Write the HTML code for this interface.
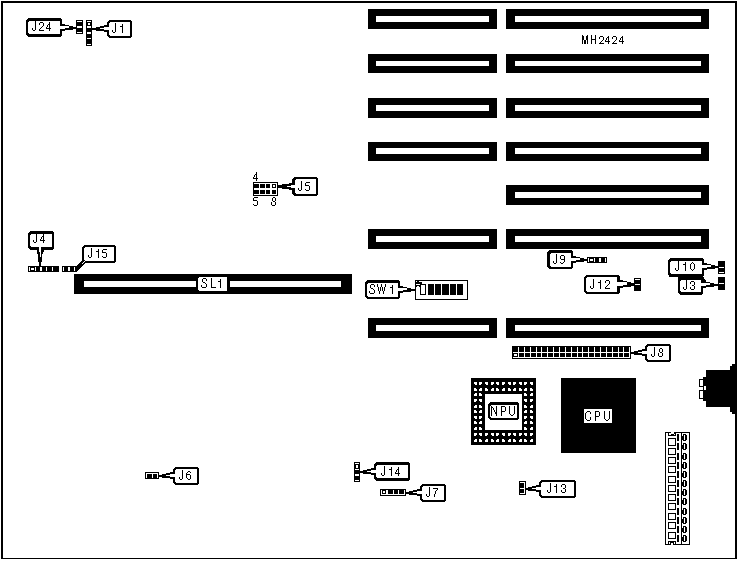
<!DOCTYPE html>
<html><head><meta charset="utf-8"><style>
html,body{margin:0;padding:0;background:#fff;width:738px;height:561px;overflow:hidden}
svg{display:block}
</style></head><body>
<svg width="738" height="561" viewBox="0 0 738 561" shape-rendering="crispEdges">
<rect x="0" y="0" width="738" height="561" fill="#fff"/>
<rect x="1" y="1" width="736" height="2" fill="#000"/>
<rect x="1" y="1" width="2" height="558" fill="#000"/>
<rect x="735" y="1" width="2" height="558" fill="#000"/>
<rect x="1" y="558" width="736" height="1" fill="#000"/>
<rect x="368" y="9" width="129" height="20" fill="#000"/>
<rect x="376" y="16" width="113" height="6" fill="#fff"/>
<rect x="506" y="9" width="203" height="20" fill="#000"/>
<rect x="515" y="16" width="186" height="6" fill="#fff"/>
<rect x="368" y="54" width="129" height="19" fill="#000"/>
<rect x="376" y="61" width="113" height="5" fill="#fff"/>
<rect x="506" y="54" width="203" height="19" fill="#000"/>
<rect x="515" y="61" width="186" height="5" fill="#fff"/>
<rect x="368" y="98" width="129" height="20" fill="#000"/>
<rect x="376" y="105" width="113" height="6" fill="#fff"/>
<rect x="506" y="98" width="203" height="20" fill="#000"/>
<rect x="515" y="105" width="186" height="6" fill="#fff"/>
<rect x="368" y="142" width="129" height="19" fill="#000"/>
<rect x="376" y="148" width="113" height="6" fill="#fff"/>
<rect x="506" y="142" width="203" height="19" fill="#000"/>
<rect x="515" y="148" width="186" height="6" fill="#fff"/>
<rect x="506" y="185" width="203" height="20" fill="#000"/>
<rect x="515" y="192" width="186" height="6" fill="#fff"/>
<rect x="368" y="229" width="129" height="20" fill="#000"/>
<rect x="376" y="236" width="113" height="6" fill="#fff"/>
<rect x="506" y="229" width="203" height="20" fill="#000"/>
<rect x="515" y="236" width="186" height="6" fill="#fff"/>
<rect x="368" y="318" width="129" height="20" fill="#000"/>
<rect x="376" y="325" width="113" height="6" fill="#fff"/>
<rect x="506" y="318" width="203" height="20" fill="#000"/>
<rect x="515" y="325" width="186" height="6" fill="#fff"/>
<rect x="76" y="20" width="7" height="14" fill="#000"/>
<rect x="77" y="21" width="5" height="1" fill="#fff"/>
<rect x="77" y="26" width="5" height="2" fill="#fff"/>
<rect x="77" y="32" width="5" height="1" fill="#fff"/>
<rect x="86" y="20" width="6" height="26" fill="#000"/>
<rect x="87" y="21" width="4" height="1" fill="#fff"/>
<rect x="87" y="26" width="4" height="2" fill="#fff"/>
<rect x="87" y="32" width="4" height="2" fill="#fff"/>
<rect x="87" y="38" width="4" height="1" fill="#fff"/>
<rect x="87" y="44" width="4" height="1" fill="#fff"/>
<rect x="88" y="23" width="2" height="2" fill="#fff"/>
<polygon points="28,18 60,18 62,20 62,35 60,37 28,37 26,35 26,20" fill="#000"/>
<polygon points="29,21 59,21 60,22 60,33 59,34 29,34 28,33 28,22" fill="#fff"/>
<rect x="60" y="24" width="5" height="7" fill="#000"/>
<rect x="65" y="25" width="4" height="5" fill="#000"/>
<rect x="69" y="26" width="4" height="4" fill="#000"/>
<rect x="73" y="27" width="3" height="2" fill="#000"/>
<rect x="60" y="26" width="5" height="3" fill="#fff"/>
<rect x="65" y="26" width="4" height="2" fill="#fff"/>
<polygon points="109,20 130,20 132,22 132,36 130,38 109,38 107,36 107,22" fill="#000"/>
<polygon points="110,22 129,22 130,23 130,35 129,36 110,36 109,35 109,23" fill="#fff"/>
<rect x="104" y="25" width="5" height="7" fill="#000"/>
<rect x="100" y="26" width="4" height="5" fill="#000"/>
<rect x="96" y="27" width="4" height="4" fill="#000"/>
<rect x="92" y="28" width="4" height="2" fill="#000"/>
<rect x="104" y="27" width="5" height="3" fill="#fff"/>
<rect x="100" y="28" width="4" height="1" fill="#fff"/>
<rect x="253" y="182" width="25" height="14" fill="#000"/>
<rect x="254" y="183" width="23" height="12" fill="#fff"/>
<rect x="254" y="184" width="5" height="4" fill="#000"/>
<rect x="254" y="190" width="5" height="4" fill="#000"/>
<rect x="260" y="184" width="5" height="4" fill="#000"/>
<rect x="260" y="190" width="5" height="4" fill="#000"/>
<rect x="266" y="184" width="4" height="4" fill="#000"/>
<rect x="266" y="190" width="4" height="4" fill="#000"/>
<rect x="272" y="184" width="4" height="4" fill="#000"/>
<rect x="272" y="190" width="4" height="4" fill="#000"/>
<rect x="273" y="185" width="2" height="2" fill="#fff"/>
<rect x="253" y="184" width="1" height="10" fill="#000"/>
<polygon points="294,177 316,177 318,179 318,194 316,196 294,196 292,194 292,179" fill="#000"/>
<polygon points="296,179 315,179 316,180 316,193 315,194 296,194 295,193 295,180" fill="#fff"/>
<rect x="278" y="185" width="4" height="3" fill="#000"/>
<rect x="282" y="184" width="7" height="5" fill="#000"/>
<rect x="289" y="183" width="6" height="7" fill="#000"/>
<rect x="287" y="186" width="4" height="1" fill="#fff"/>
<rect x="291" y="185" width="4" height="3" fill="#fff"/>
<rect x="28" y="266" width="31" height="6" fill="#000"/>
<rect x="29" y="267" width="1" height="4" fill="#fff"/>
<rect x="35" y="267" width="1" height="4" fill="#fff"/>
<rect x="40" y="267" width="2" height="4" fill="#fff"/>
<rect x="46" y="267" width="1" height="4" fill="#fff"/>
<rect x="52" y="267" width="1" height="4" fill="#fff"/>
<rect x="31" y="268" width="3" height="2" fill="#fff"/>
<polygon points="30,231 52,231 54,233 54,248 52,250 30,250 28,248 28,233" fill="#000"/>
<polygon points="31,234 51,234 52,235 52,246 51,247 31,247 30,246 30,235" fill="#fff"/>
<rect x="37" y="248" width="7" height="4" fill="#000"/>
<rect x="37" y="252" width="6" height="2" fill="#000"/>
<rect x="38" y="254" width="4" height="8" fill="#000"/>
<rect x="39" y="262" width="2" height="4" fill="#000"/>
<rect x="39" y="247" width="2" height="5" fill="#fff"/>
<rect x="40" y="252" width="1" height="5" fill="#fff"/>
<rect x="62" y="266" width="14" height="6" fill="#000"/>
<rect x="63" y="267" width="1" height="4" fill="#fff"/>
<rect x="68" y="267" width="2" height="4" fill="#fff"/>
<rect x="74" y="267" width="1" height="4" fill="#fff"/>
<polygon points="84,245 114,245 116,247 116,261 114,263 84,263 82,261 82,247" fill="#000"/>
<polygon points="85,247 113,247 114,248 114,260 113,261 85,261 84,260 84,248" fill="#fff"/>
<polygon points="82,258 84,258 84,261 86,261 86,262.5 76.5,272 76,272 76,266.5 82,260.5" fill="#000"/>
<polygon points="84,261 85.5,261 82,264.5 81.2,264" fill="#fff"/>
<rect x="74" y="274" width="278" height="20" fill="#000"/>
<rect x="84" y="281" width="112" height="6" fill="#fff"/>
<rect x="230" y="281" width="111" height="6" fill="#fff"/>
<polygon points="199,277 226,277 227,278 227,290 226,291 199,291 198,290 198,278" fill="#fff"/>
<rect x="415" y="280" width="53" height="20" fill="#000"/>
<rect x="416" y="281" width="51" height="18" fill="#fff"/>
<rect x="420" y="284" width="6" height="11" fill="#000"/>
<rect x="421" y="285" width="4" height="9" fill="#fff"/>
<rect x="428" y="284" width="6" height="11" fill="#000"/>
<rect x="435" y="284" width="6" height="11" fill="#000"/>
<rect x="442" y="284" width="7" height="11" fill="#000"/>
<rect x="450" y="284" width="6" height="11" fill="#000"/>
<rect x="457" y="284" width="6" height="11" fill="#000"/>
<polygon points="367,280 398,280 400,282 400,297 398,299 367,299 365,297 365,282" fill="#000"/>
<polygon points="368,283 397,283 398,284 398,296 397,297 368,297 367,296 367,284" fill="#fff"/>
<rect x="398" y="286" width="5" height="7" fill="#000"/>
<rect x="403" y="287" width="4" height="5" fill="#000"/>
<rect x="407" y="288" width="4" height="4" fill="#000"/>
<rect x="411" y="289" width="4" height="2" fill="#000"/>
<rect x="398" y="288" width="5" height="3" fill="#fff"/>
<rect x="403" y="288" width="4" height="2" fill="#fff"/>
<rect x="417" y="281" width="2" height="2" fill="#000"/>
<rect x="416" y="282" width="6" height="2" fill="#000"/>
<rect x="416" y="285" width="4" height="2" fill="#000"/>
<rect x="417" y="286" width="2" height="1" fill="#fff"/>
<rect x="587" y="257" width="20" height="6" fill="#000"/>
<rect x="588" y="258" width="1" height="4" fill="#fff"/>
<rect x="594" y="258" width="1" height="4" fill="#fff"/>
<rect x="599" y="258" width="2" height="4" fill="#fff"/>
<rect x="605" y="258" width="1" height="4" fill="#fff"/>
<rect x="590" y="259" width="3" height="2" fill="#fff"/>
<polygon points="549,250 571,250 573,252 573,267 571,269 549,269 547,267 547,252" fill="#000"/>
<polygon points="551,253 570,253 571,254 571,266 570,267 551,267 550,266 550,254" fill="#fff"/>
<rect x="571" y="256" width="5" height="7" fill="#000"/>
<rect x="576" y="257" width="4" height="5" fill="#000"/>
<rect x="580" y="258" width="4" height="4" fill="#000"/>
<rect x="584" y="259" width="3" height="2" fill="#000"/>
<rect x="571" y="258" width="5" height="3" fill="#fff"/>
<rect x="576" y="258" width="4" height="2" fill="#fff"/>
<rect x="634" y="278" width="7" height="13" fill="#000"/>
<rect x="635" y="279" width="5" height="1" fill="#fff"/>
<rect x="635" y="284" width="5" height="1" fill="#fff"/>
<polygon points="586,275 618,275 620,277 620,292 618,294 586,294 584,292 584,277" fill="#000"/>
<polygon points="587,277 616,277 617,278 617,291 616,292 587,292 586,291 586,278" fill="#fff"/>
<rect x="617" y="280" width="6" height="8" fill="#000"/>
<rect x="623" y="281" width="4" height="6" fill="#000"/>
<rect x="627" y="282" width="4" height="5" fill="#000"/>
<rect x="631" y="283" width="3" height="3" fill="#000"/>
<rect x="617" y="282" width="6" height="4" fill="#fff"/>
<rect x="623" y="282" width="4" height="3" fill="#fff"/>
<rect x="718" y="261" width="7" height="13" fill="#000"/>
<rect x="719" y="267" width="5" height="1" fill="#fff"/>
<rect x="719" y="272" width="5" height="1" fill="#fff"/>
<rect x="718" y="277" width="7" height="13" fill="#000"/>
<rect x="719" y="283" width="5" height="1" fill="#fff"/>
<polygon points="670,258 702,258 704,260 704,275 702,277 670,277 668,275 668,260" fill="#000"/>
<polygon points="671,261 701,261 702,262 702,273 701,274 671,274 670,273 670,262" fill="#fff"/>
<polygon points="680,277 701,277 703,279 703,293 701,295 680,295 678,293 678,279" fill="#000"/>
<polygon points="681,280 700,280 701,281 701,291 700,292 681,292 680,291 680,281" fill="#fff"/>
<rect x="669" y="274" width="34" height="3" fill="#000"/>
<rect x="678" y="277" width="25" height="3" fill="#000"/>
<rect x="702" y="263" width="5" height="7" fill="#000"/>
<rect x="707" y="264" width="4" height="5" fill="#000"/>
<rect x="711" y="265" width="4" height="4" fill="#000"/>
<rect x="715" y="266" width="3" height="2" fill="#000"/>
<rect x="702" y="265" width="5" height="3" fill="#fff"/>
<rect x="707" y="265" width="4" height="2" fill="#fff"/>
<rect x="701" y="281" width="5" height="7" fill="#000"/>
<rect x="706" y="282" width="4" height="5" fill="#000"/>
<rect x="710" y="283" width="4" height="4" fill="#000"/>
<rect x="714" y="284" width="4" height="2" fill="#000"/>
<rect x="701" y="283" width="5" height="3" fill="#fff"/>
<rect x="706" y="283" width="4" height="2" fill="#fff"/>
<polygon points="701,276 703,276 706,281 706,283 703,283 701,280" fill="#000"/>
<rect x="701" y="283" width="2" height="2" fill="#fff"/>
<rect x="512" y="346" width="119" height="13" fill="#000"/>
<rect x="513" y="352" width="117" height="1" fill="#fff"/>
<rect x="513" y="357" width="117" height="1" fill="#fff"/>
<rect x="518" y="347" width="1" height="11" fill="#fff"/>
<rect x="524" y="347" width="1" height="11" fill="#fff"/>
<rect x="530" y="347" width="1" height="11" fill="#fff"/>
<rect x="536" y="347" width="1" height="11" fill="#fff"/>
<rect x="541" y="347" width="1" height="11" fill="#fff"/>
<rect x="547" y="347" width="1" height="11" fill="#fff"/>
<rect x="553" y="347" width="1" height="11" fill="#fff"/>
<rect x="559" y="347" width="1" height="11" fill="#fff"/>
<rect x="565" y="347" width="1" height="11" fill="#fff"/>
<rect x="571" y="347" width="1" height="11" fill="#fff"/>
<rect x="577" y="347" width="1" height="11" fill="#fff"/>
<rect x="582" y="347" width="1" height="11" fill="#fff"/>
<rect x="588" y="347" width="1" height="11" fill="#fff"/>
<rect x="594" y="347" width="1" height="11" fill="#fff"/>
<rect x="600" y="347" width="1" height="11" fill="#fff"/>
<rect x="606" y="347" width="1" height="11" fill="#fff"/>
<rect x="612" y="347" width="1" height="11" fill="#fff"/>
<rect x="618" y="347" width="1" height="11" fill="#fff"/>
<rect x="623" y="347" width="1" height="11" fill="#fff"/>
<rect x="629" y="347" width="1" height="11" fill="#fff"/>
<rect x="514" y="354" width="3" height="2" fill="#fff"/>
<polygon points="647,344 669,344 671,346 671,360 669,362 647,362 645,360 645,346" fill="#000"/>
<polygon points="648,346 668,346 669,347 669,359 668,360 648,360 647,359 647,347" fill="#fff"/>
<rect x="642" y="349" width="5" height="7" fill="#000"/>
<rect x="638" y="350" width="4" height="5" fill="#000"/>
<rect x="634" y="351" width="4" height="4" fill="#000"/>
<rect x="631" y="352" width="3" height="2" fill="#000"/>
<rect x="642" y="351" width="5" height="3" fill="#fff"/>
<rect x="638" y="352" width="4" height="1" fill="#fff"/>
<rect x="471" y="378" width="65" height="67" fill="#000"/>
<rect x="474" y="382" width="3" height="3" fill="#fff"/>
<rect x="474" y="384" width="1" height="1" fill="#000"/>
<rect x="479" y="382" width="3" height="3" fill="#fff"/>
<rect x="481" y="384" width="1" height="1" fill="#000"/>
<rect x="485" y="382" width="3" height="3" fill="#fff"/>
<rect x="485" y="384" width="1" height="1" fill="#000"/>
<rect x="491" y="382" width="3" height="3" fill="#fff"/>
<rect x="493" y="384" width="1" height="1" fill="#000"/>
<rect x="496" y="382" width="3" height="3" fill="#fff"/>
<rect x="496" y="384" width="1" height="1" fill="#000"/>
<rect x="502" y="382" width="3" height="3" fill="#fff"/>
<rect x="504" y="384" width="1" height="1" fill="#000"/>
<rect x="508" y="382" width="3" height="3" fill="#fff"/>
<rect x="508" y="384" width="1" height="1" fill="#000"/>
<rect x="513" y="382" width="3" height="3" fill="#fff"/>
<rect x="515" y="384" width="1" height="1" fill="#000"/>
<rect x="519" y="382" width="3" height="3" fill="#fff"/>
<rect x="519" y="384" width="1" height="1" fill="#000"/>
<rect x="524" y="382" width="3" height="3" fill="#fff"/>
<rect x="526" y="384" width="1" height="1" fill="#000"/>
<rect x="530" y="382" width="3" height="3" fill="#fff"/>
<rect x="530" y="384" width="1" height="1" fill="#000"/>
<rect x="474" y="388" width="3" height="3" fill="#fff"/>
<rect x="476" y="388" width="1" height="1" fill="#000"/>
<rect x="479" y="388" width="3" height="3" fill="#fff"/>
<rect x="479" y="388" width="1" height="1" fill="#000"/>
<rect x="485" y="388" width="3" height="3" fill="#fff"/>
<rect x="487" y="388" width="1" height="1" fill="#000"/>
<rect x="491" y="388" width="3" height="3" fill="#fff"/>
<rect x="491" y="388" width="1" height="1" fill="#000"/>
<rect x="496" y="388" width="3" height="3" fill="#fff"/>
<rect x="498" y="388" width="1" height="1" fill="#000"/>
<rect x="502" y="388" width="3" height="3" fill="#fff"/>
<rect x="502" y="388" width="1" height="1" fill="#000"/>
<rect x="508" y="388" width="3" height="3" fill="#fff"/>
<rect x="510" y="388" width="1" height="1" fill="#000"/>
<rect x="513" y="388" width="3" height="3" fill="#fff"/>
<rect x="513" y="388" width="1" height="1" fill="#000"/>
<rect x="519" y="388" width="3" height="3" fill="#fff"/>
<rect x="521" y="388" width="1" height="1" fill="#000"/>
<rect x="524" y="388" width="3" height="3" fill="#fff"/>
<rect x="524" y="388" width="1" height="1" fill="#000"/>
<rect x="530" y="388" width="3" height="3" fill="#fff"/>
<rect x="532" y="388" width="1" height="1" fill="#000"/>
<rect x="474" y="393" width="3" height="3" fill="#fff"/>
<rect x="474" y="393" width="1" height="1" fill="#000"/>
<rect x="479" y="393" width="3" height="3" fill="#fff"/>
<rect x="481" y="393" width="1" height="1" fill="#000"/>
<rect x="524" y="393" width="3" height="3" fill="#fff"/>
<rect x="526" y="393" width="1" height="1" fill="#000"/>
<rect x="530" y="393" width="3" height="3" fill="#fff"/>
<rect x="530" y="393" width="1" height="1" fill="#000"/>
<rect x="474" y="399" width="3" height="3" fill="#fff"/>
<rect x="476" y="401" width="1" height="1" fill="#000"/>
<rect x="479" y="399" width="3" height="3" fill="#fff"/>
<rect x="479" y="401" width="1" height="1" fill="#000"/>
<rect x="524" y="399" width="3" height="3" fill="#fff"/>
<rect x="524" y="401" width="1" height="1" fill="#000"/>
<rect x="530" y="399" width="3" height="3" fill="#fff"/>
<rect x="532" y="401" width="1" height="1" fill="#000"/>
<rect x="474" y="405" width="3" height="3" fill="#fff"/>
<rect x="474" y="405" width="1" height="1" fill="#000"/>
<rect x="479" y="405" width="3" height="3" fill="#fff"/>
<rect x="481" y="405" width="1" height="1" fill="#000"/>
<rect x="524" y="405" width="3" height="3" fill="#fff"/>
<rect x="526" y="405" width="1" height="1" fill="#000"/>
<rect x="530" y="405" width="3" height="3" fill="#fff"/>
<rect x="530" y="405" width="1" height="1" fill="#000"/>
<rect x="474" y="410" width="3" height="3" fill="#fff"/>
<rect x="476" y="410" width="1" height="1" fill="#000"/>
<rect x="479" y="410" width="3" height="3" fill="#fff"/>
<rect x="479" y="410" width="1" height="1" fill="#000"/>
<rect x="524" y="410" width="3" height="3" fill="#fff"/>
<rect x="524" y="410" width="1" height="1" fill="#000"/>
<rect x="530" y="410" width="3" height="3" fill="#fff"/>
<rect x="532" y="410" width="1" height="1" fill="#000"/>
<rect x="474" y="416" width="3" height="3" fill="#fff"/>
<rect x="474" y="418" width="1" height="1" fill="#000"/>
<rect x="479" y="416" width="3" height="3" fill="#fff"/>
<rect x="481" y="418" width="1" height="1" fill="#000"/>
<rect x="524" y="416" width="3" height="3" fill="#fff"/>
<rect x="526" y="418" width="1" height="1" fill="#000"/>
<rect x="530" y="416" width="3" height="3" fill="#fff"/>
<rect x="530" y="418" width="1" height="1" fill="#000"/>
<rect x="474" y="421" width="3" height="3" fill="#fff"/>
<rect x="476" y="421" width="1" height="1" fill="#000"/>
<rect x="479" y="421" width="3" height="3" fill="#fff"/>
<rect x="479" y="421" width="1" height="1" fill="#000"/>
<rect x="524" y="421" width="3" height="3" fill="#fff"/>
<rect x="524" y="421" width="1" height="1" fill="#000"/>
<rect x="530" y="421" width="3" height="3" fill="#fff"/>
<rect x="532" y="421" width="1" height="1" fill="#000"/>
<rect x="474" y="427" width="3" height="3" fill="#fff"/>
<rect x="474" y="427" width="1" height="1" fill="#000"/>
<rect x="479" y="427" width="3" height="3" fill="#fff"/>
<rect x="481" y="427" width="1" height="1" fill="#000"/>
<rect x="524" y="427" width="3" height="3" fill="#fff"/>
<rect x="526" y="427" width="1" height="1" fill="#000"/>
<rect x="530" y="427" width="3" height="3" fill="#fff"/>
<rect x="530" y="427" width="1" height="1" fill="#000"/>
<rect x="474" y="433" width="3" height="3" fill="#fff"/>
<rect x="476" y="435" width="1" height="1" fill="#000"/>
<rect x="479" y="433" width="3" height="3" fill="#fff"/>
<rect x="479" y="435" width="1" height="1" fill="#000"/>
<rect x="485" y="433" width="3" height="3" fill="#fff"/>
<rect x="487" y="435" width="1" height="1" fill="#000"/>
<rect x="491" y="433" width="3" height="3" fill="#fff"/>
<rect x="491" y="435" width="1" height="1" fill="#000"/>
<rect x="496" y="433" width="3" height="3" fill="#fff"/>
<rect x="498" y="435" width="1" height="1" fill="#000"/>
<rect x="502" y="433" width="3" height="3" fill="#fff"/>
<rect x="502" y="435" width="1" height="1" fill="#000"/>
<rect x="508" y="433" width="3" height="3" fill="#fff"/>
<rect x="510" y="435" width="1" height="1" fill="#000"/>
<rect x="513" y="433" width="3" height="3" fill="#fff"/>
<rect x="513" y="435" width="1" height="1" fill="#000"/>
<rect x="519" y="433" width="3" height="3" fill="#fff"/>
<rect x="521" y="435" width="1" height="1" fill="#000"/>
<rect x="524" y="433" width="3" height="3" fill="#fff"/>
<rect x="524" y="435" width="1" height="1" fill="#000"/>
<rect x="530" y="433" width="3" height="3" fill="#fff"/>
<rect x="532" y="435" width="1" height="1" fill="#000"/>
<rect x="474" y="439" width="3" height="3" fill="#fff"/>
<rect x="474" y="439" width="1" height="1" fill="#000"/>
<rect x="479" y="439" width="3" height="3" fill="#fff"/>
<rect x="481" y="439" width="1" height="1" fill="#000"/>
<rect x="485" y="439" width="3" height="3" fill="#fff"/>
<rect x="485" y="439" width="1" height="1" fill="#000"/>
<rect x="491" y="439" width="3" height="3" fill="#fff"/>
<rect x="493" y="439" width="1" height="1" fill="#000"/>
<rect x="496" y="439" width="3" height="3" fill="#fff"/>
<rect x="496" y="439" width="1" height="1" fill="#000"/>
<rect x="502" y="439" width="3" height="3" fill="#fff"/>
<rect x="504" y="439" width="1" height="1" fill="#000"/>
<rect x="508" y="439" width="3" height="3" fill="#fff"/>
<rect x="508" y="439" width="1" height="1" fill="#000"/>
<rect x="513" y="439" width="3" height="3" fill="#fff"/>
<rect x="515" y="439" width="1" height="1" fill="#000"/>
<rect x="519" y="439" width="3" height="3" fill="#fff"/>
<rect x="519" y="439" width="1" height="1" fill="#000"/>
<rect x="524" y="439" width="3" height="3" fill="#fff"/>
<rect x="526" y="439" width="1" height="1" fill="#000"/>
<rect x="530" y="439" width="3" height="3" fill="#fff"/>
<rect x="530" y="439" width="1" height="1" fill="#000"/>
<rect x="485" y="394" width="37" height="36" fill="#fff"/>
<polygon points="490,402 517,402 519,404 519,418 517,420 490,420 488,418 488,404" fill="#000"/>
<polygon points="491,405 516,405 517,406 517,417 516,418 491,418 490,417 490,406" fill="#fff"/>
<rect x="561" y="378" width="75" height="75" fill="#000"/>
<rect x="584" y="409" width="28" height="14" fill="#fff"/>
<polygon points="735,364 732,364 732,366 730,366 730,370 706,370 706,377 703,377 703,401 706,401 706,407 730,407 730,412 732,412 732,414 735,414" fill="#000"/>
<rect x="699" y="379" width="5" height="8" fill="#000"/>
<rect x="700" y="380" width="3" height="6" fill="#fff"/>
<rect x="699" y="390" width="5" height="9" fill="#000"/>
<rect x="700" y="391" width="3" height="7" fill="#fff"/>
<rect x="704" y="386" width="2" height="4" fill="#fff"/>
<rect x="665" y="432" width="25" height="113" fill="#000"/>
<rect x="666" y="433" width="23" height="111" fill="#fff"/>
<rect x="681" y="432" width="1" height="113" fill="#000"/>
<rect x="671" y="432" width="3" height="1" fill="#fff"/>
<rect x="668" y="433" width="3" height="3" fill="#000"/>
<rect x="674" y="433" width="2" height="3" fill="#000"/>
<rect x="671" y="434" width="3" height="2" fill="#000"/>
<rect x="669" y="433" width="2" height="2" fill="#fff"/>
<rect x="674" y="434" width="1" height="1" fill="#fff"/>
<rect x="671" y="544" width="2" height="1" fill="#fff"/>
<rect x="668" y="541" width="8" height="4" fill="#000"/>
<rect x="671" y="543" width="2" height="2" fill="#fff"/>
<rect x="669" y="542" width="1" height="2" fill="#fff"/>
<rect x="674" y="542" width="1" height="2" fill="#fff"/>
<rect x="668" y="438" width="8" height="8" fill="#000"/>
<rect x="669" y="439" width="6" height="6" fill="#fff"/>
<rect x="668" y="448" width="8" height="7" fill="#000"/>
<rect x="669" y="449" width="6" height="5" fill="#fff"/>
<rect x="668" y="457" width="8" height="7" fill="#000"/>
<rect x="669" y="458" width="6" height="5" fill="#fff"/>
<rect x="668" y="466" width="8" height="7" fill="#000"/>
<rect x="669" y="467" width="6" height="5" fill="#fff"/>
<rect x="668" y="476" width="8" height="7" fill="#000"/>
<rect x="669" y="477" width="6" height="5" fill="#fff"/>
<rect x="668" y="485" width="8" height="7" fill="#000"/>
<rect x="669" y="486" width="6" height="5" fill="#fff"/>
<rect x="668" y="494" width="8" height="7" fill="#000"/>
<rect x="669" y="495" width="6" height="5" fill="#fff"/>
<rect x="668" y="503" width="8" height="7" fill="#000"/>
<rect x="669" y="504" width="6" height="5" fill="#fff"/>
<rect x="668" y="513" width="8" height="7" fill="#000"/>
<rect x="669" y="514" width="6" height="5" fill="#fff"/>
<rect x="668" y="522" width="8" height="7" fill="#000"/>
<rect x="669" y="523" width="6" height="5" fill="#fff"/>
<rect x="668" y="532" width="8" height="7" fill="#000"/>
<rect x="669" y="533" width="6" height="5" fill="#fff"/>
<rect x="677" y="434" width="2" height="7" fill="#000"/>
<rect x="683" y="434" width="3" height="7" fill="#000"/>
<rect x="682" y="436" width="1" height="4" fill="#000"/>
<rect x="686" y="435" width="1" height="5" fill="#000"/>
<rect x="684" y="435" width="1" height="5" fill="#fff"/>
<rect x="677" y="443" width="2" height="7" fill="#000"/>
<rect x="683" y="443" width="3" height="7" fill="#000"/>
<rect x="682" y="445" width="1" height="4" fill="#000"/>
<rect x="686" y="444" width="1" height="5" fill="#000"/>
<rect x="684" y="444" width="1" height="5" fill="#fff"/>
<rect x="677" y="453" width="2" height="7" fill="#000"/>
<rect x="683" y="453" width="3" height="7" fill="#000"/>
<rect x="682" y="455" width="1" height="4" fill="#000"/>
<rect x="686" y="454" width="1" height="5" fill="#000"/>
<rect x="684" y="454" width="1" height="5" fill="#fff"/>
<rect x="677" y="462" width="2" height="7" fill="#000"/>
<rect x="683" y="462" width="3" height="7" fill="#000"/>
<rect x="682" y="464" width="1" height="4" fill="#000"/>
<rect x="686" y="463" width="1" height="5" fill="#000"/>
<rect x="684" y="463" width="1" height="5" fill="#fff"/>
<rect x="677" y="471" width="2" height="7" fill="#000"/>
<rect x="683" y="471" width="3" height="7" fill="#000"/>
<rect x="682" y="473" width="1" height="4" fill="#000"/>
<rect x="686" y="472" width="1" height="5" fill="#000"/>
<rect x="684" y="472" width="1" height="5" fill="#fff"/>
<rect x="677" y="480" width="2" height="7" fill="#000"/>
<rect x="683" y="480" width="3" height="7" fill="#000"/>
<rect x="682" y="482" width="1" height="4" fill="#000"/>
<rect x="686" y="481" width="1" height="5" fill="#000"/>
<rect x="684" y="481" width="1" height="5" fill="#fff"/>
<rect x="677" y="489" width="2" height="7" fill="#000"/>
<rect x="683" y="489" width="3" height="7" fill="#000"/>
<rect x="682" y="491" width="1" height="4" fill="#000"/>
<rect x="686" y="490" width="1" height="5" fill="#000"/>
<rect x="684" y="490" width="1" height="5" fill="#fff"/>
<rect x="677" y="498" width="2" height="7" fill="#000"/>
<rect x="683" y="498" width="3" height="7" fill="#000"/>
<rect x="682" y="500" width="1" height="4" fill="#000"/>
<rect x="686" y="499" width="1" height="5" fill="#000"/>
<rect x="684" y="499" width="1" height="5" fill="#fff"/>
<rect x="677" y="508" width="2" height="7" fill="#000"/>
<rect x="683" y="508" width="3" height="7" fill="#000"/>
<rect x="682" y="510" width="1" height="4" fill="#000"/>
<rect x="686" y="509" width="1" height="5" fill="#000"/>
<rect x="684" y="509" width="1" height="5" fill="#fff"/>
<rect x="677" y="517" width="2" height="7" fill="#000"/>
<rect x="683" y="517" width="3" height="7" fill="#000"/>
<rect x="682" y="519" width="1" height="4" fill="#000"/>
<rect x="686" y="518" width="1" height="5" fill="#000"/>
<rect x="684" y="518" width="1" height="5" fill="#fff"/>
<rect x="677" y="526" width="2" height="7" fill="#000"/>
<rect x="683" y="526" width="3" height="7" fill="#000"/>
<rect x="682" y="528" width="1" height="4" fill="#000"/>
<rect x="686" y="527" width="1" height="5" fill="#000"/>
<rect x="684" y="527" width="1" height="5" fill="#fff"/>
<rect x="677" y="535" width="2" height="7" fill="#000"/>
<rect x="683" y="535" width="3" height="7" fill="#000"/>
<rect x="682" y="537" width="1" height="4" fill="#000"/>
<rect x="686" y="536" width="1" height="5" fill="#000"/>
<rect x="684" y="536" width="1" height="5" fill="#fff"/>
<rect x="145" y="472" width="14" height="7" fill="#000"/>
<rect x="146" y="473" width="12" height="5" fill="#fff"/>
<rect x="147" y="474" width="5" height="4" fill="#000"/>
<rect x="153" y="474" width="4" height="4" fill="#000"/>
<polygon points="175,467 197,467 199,469 199,483 197,485 175,485 173,483 173,469" fill="#000"/>
<polygon points="176,469 196,469 197,470 197,482 196,483 176,483 175,482 175,470" fill="#fff"/>
<rect x="170" y="472" width="5" height="7" fill="#000"/>
<rect x="166" y="473" width="4" height="5" fill="#000"/>
<rect x="162" y="474" width="4" height="4" fill="#000"/>
<rect x="159" y="475" width="3" height="2" fill="#000"/>
<rect x="170" y="474" width="5" height="3" fill="#fff"/>
<rect x="166" y="475" width="4" height="1" fill="#fff"/>
<rect x="354" y="462" width="6" height="20" fill="#000"/>
<rect x="355" y="463" width="4" height="1" fill="#fff"/>
<rect x="356" y="465" width="2" height="3" fill="#fff"/>
<rect x="355" y="469" width="4" height="1" fill="#fff"/>
<rect x="355" y="474" width="4" height="2" fill="#fff"/>
<rect x="355" y="480" width="4" height="1" fill="#fff"/>
<polygon points="376,462 408,462 410,464 410,479 408,481 376,481 374,479 374,464" fill="#000"/>
<polygon points="377,465 407,465 408,466 408,477 407,478 377,478 376,477 376,466" fill="#fff"/>
<rect x="371" y="468" width="5" height="7" fill="#000"/>
<rect x="367" y="469" width="4" height="5" fill="#000"/>
<rect x="363" y="470" width="4" height="4" fill="#000"/>
<rect x="360" y="471" width="3" height="2" fill="#000"/>
<rect x="371" y="470" width="5" height="3" fill="#fff"/>
<rect x="367" y="471" width="4" height="1" fill="#fff"/>
<rect x="380" y="489" width="26" height="7" fill="#000"/>
<rect x="381" y="490" width="24" height="5" fill="#fff"/>
<rect x="382" y="490" width="4" height="4" fill="#000"/>
<rect x="383" y="491" width="2" height="2" fill="#fff"/>
<rect x="388" y="490" width="5" height="4" fill="#000"/>
<rect x="393" y="490" width="5" height="4" fill="#000"/>
<rect x="399" y="490" width="5" height="4" fill="#000"/>
<rect x="393" y="490" width="1" height="4" fill="#fff"/>
<polygon points="422,484 444,484 446,486 446,500 444,502 422,502 420,500 420,486" fill="#000"/>
<polygon points="423,486 443,486 444,487 444,499 443,500 423,500 422,499 422,487" fill="#fff"/>
<rect x="417" y="489" width="5" height="7" fill="#000"/>
<rect x="413" y="490" width="4" height="5" fill="#000"/>
<rect x="409" y="491" width="4" height="4" fill="#000"/>
<rect x="406" y="492" width="3" height="2" fill="#000"/>
<rect x="417" y="491" width="5" height="3" fill="#fff"/>
<rect x="413" y="492" width="4" height="1" fill="#fff"/>
<rect x="519" y="481" width="7" height="14" fill="#000"/>
<rect x="520" y="482" width="5" height="1" fill="#fff"/>
<rect x="524" y="482" width="1" height="12" fill="#fff"/>
<rect x="520" y="488" width="5" height="1" fill="#fff"/>
<rect x="520" y="493" width="5" height="1" fill="#fff"/>
<polygon points="541,480 574,480 576,482 576,496 574,498 541,498 539,496 539,482" fill="#000"/>
<polygon points="542,482 573,482 574,483 574,495 573,496 542,496 541,495 541,483" fill="#fff"/>
<rect x="536" y="485" width="5" height="7" fill="#000"/>
<rect x="532" y="486" width="4" height="5" fill="#000"/>
<rect x="528" y="487" width="4" height="4" fill="#000"/>
<rect x="526" y="488" width="2" height="2" fill="#000"/>
<rect x="536" y="487" width="5" height="3" fill="#fff"/>
<rect x="532" y="488" width="4" height="1" fill="#fff"/>
<path d="M582 35h1v1h-1zM587 35h1v1h-1zM582 36h2v1h-2zM586 36h2v1h-2zM582 37h2v1h-2zM586 37h2v1h-2zM582 38h2v1h-2zM586 38h2v1h-2zM582 39h2v1h-2zM586 39h2v1h-2zM582 40h1v1h-1zM584 40h2v1h-2zM587 40h1v1h-1zM582 41h1v1h-1zM584 41h2v1h-2zM587 41h1v1h-1zM582 42h1v1h-1zM584 42h2v1h-2zM587 42h1v1h-1zM582 43h1v1h-1zM584 43h2v1h-2zM587 43h1v1h-1zM591 35h1v1h-1zM595 35h1v1h-1zM591 36h1v1h-1zM595 36h1v1h-1zM591 37h1v1h-1zM595 37h1v1h-1zM591 38h1v1h-1zM595 38h1v1h-1zM591 39h5v1h-5zM591 40h1v1h-1zM595 40h1v1h-1zM591 41h1v1h-1zM595 41h1v1h-1zM591 42h1v1h-1zM595 42h1v1h-1zM591 43h1v1h-1zM595 43h1v1h-1zM600 36h3v1h-3zM599 37h1v1h-1zM603 37h1v1h-1zM599 38h1v1h-1zM603 38h1v1h-1zM603 39h1v1h-1zM602 40h1v1h-1zM601 41h1v1h-1zM600 42h1v1h-1zM599 43h5v1h-5zM608 36h1v1h-1zM607 37h2v1h-2zM606 38h1v1h-1zM608 38h1v1h-1zM606 39h1v1h-1zM608 39h1v1h-1zM605 40h1v1h-1zM608 40h1v1h-1zM605 41h5v1h-5zM608 42h1v1h-1zM608 43h1v1h-1zM613 36h3v1h-3zM612 37h1v1h-1zM616 37h1v1h-1zM612 38h1v1h-1zM616 38h1v1h-1zM616 39h1v1h-1zM615 40h1v1h-1zM614 41h1v1h-1zM613 42h1v1h-1zM612 43h5v1h-5zM622 36h1v1h-1zM621 37h2v1h-2zM620 38h1v1h-1zM622 38h1v1h-1zM620 39h1v1h-1zM622 39h1v1h-1zM619 40h1v1h-1zM622 40h1v1h-1zM619 41h5v1h-5zM622 42h1v1h-1zM622 43h1v1h-1z" fill="#000"/>
<path d="M35 21h1v1h-1zM35 22h1v1h-1zM35 23h1v1h-1zM35 24h1v1h-1zM35 25h1v1h-1zM35 26h1v1h-1zM35 27h1v1h-1zM32 28h1v1h-1zM35 28h1v1h-1zM32 29h1v1h-1zM35 29h1v1h-1zM33 30h2v1h-2zM40 22h3v1h-3zM39 23h1v1h-1zM43 23h1v1h-1zM39 24h1v1h-1zM43 24h1v1h-1zM43 25h1v1h-1zM42 26h1v1h-1zM41 27h1v1h-1zM40 28h1v1h-1zM39 29h1v1h-1zM39 30h5v1h-5zM49 22h1v1h-1zM49 23h1v1h-1zM48 24h2v1h-2zM47 25h1v1h-1zM49 25h1v1h-1zM47 26h1v1h-1zM49 26h1v1h-1zM46 27h1v1h-1zM49 27h1v1h-1zM46 28h5v1h-5zM49 29h1v1h-1zM49 30h1v1h-1z" fill="#000"/>
<path d="M115 23h1v1h-1zM115 24h1v1h-1zM115 25h1v1h-1zM115 26h1v1h-1zM115 27h1v1h-1zM115 28h1v1h-1zM115 29h1v1h-1zM112 30h1v1h-1zM115 30h1v1h-1zM112 31h1v1h-1zM115 31h1v1h-1zM113 32h2v1h-2zM122 24h1v1h-1zM122 25h1v1h-1zM120 26h3v1h-3zM122 27h1v1h-1zM122 28h1v1h-1zM122 29h1v1h-1zM122 30h1v1h-1zM122 31h1v1h-1zM122 32h1v1h-1z" fill="#000"/>
<path d="M256 172h1v1h-1zM256 173h1v1h-1zM255 174h2v1h-2zM254 175h1v1h-1zM256 175h1v1h-1zM254 176h1v1h-1zM256 176h1v1h-1zM253 177h1v1h-1zM256 177h1v1h-1zM253 178h5v1h-5zM256 179h1v1h-1zM256 180h1v1h-1zM254 197h4v1h-4zM253 198h1v1h-1zM253 199h1v1h-1zM253 200h4v1h-4zM257 201h1v1h-1zM257 202h1v1h-1zM257 203h1v1h-1zM253 204h1v1h-1zM257 204h1v1h-1zM254 205h3v1h-3zM273 197h2v1h-2zM272 198h1v1h-1zM275 198h1v1h-1zM272 199h1v1h-1zM275 199h1v1h-1zM272 200h1v1h-1zM275 200h1v1h-1zM273 201h2v1h-2zM271 202h1v1h-1zM275 202h1v1h-1zM271 203h1v1h-1zM275 203h1v1h-1zM271 204h1v1h-1zM275 204h1v1h-1zM272 205h3v1h-3z" fill="#000"/>
<path d="M301 181h1v1h-1zM301 182h1v1h-1zM301 183h1v1h-1zM301 184h1v1h-1zM301 185h1v1h-1zM301 186h1v1h-1zM301 187h1v1h-1zM298 188h1v1h-1zM301 188h1v1h-1zM298 189h1v1h-1zM301 189h1v1h-1zM299 190h2v1h-2zM306 182h4v1h-4zM305 183h1v1h-1zM305 184h1v1h-1zM305 185h4v1h-4zM309 186h1v1h-1zM309 187h1v1h-1zM309 188h1v1h-1zM305 189h1v1h-1zM309 189h1v1h-1zM306 190h3v1h-3z" fill="#000"/>
<path d="M36 233h1v1h-1zM36 234h1v1h-1zM36 235h1v1h-1zM36 236h1v1h-1zM36 237h1v1h-1zM36 238h1v1h-1zM36 239h1v1h-1zM33 240h1v1h-1zM36 240h1v1h-1zM33 241h1v1h-1zM36 241h1v1h-1zM34 242h2v1h-2zM43 234h1v1h-1zM43 235h1v1h-1zM42 236h2v1h-2zM41 237h1v1h-1zM43 237h1v1h-1zM41 238h1v1h-1zM43 238h1v1h-1zM40 239h1v1h-1zM43 239h1v1h-1zM40 240h5v1h-5zM43 241h1v1h-1zM43 242h1v1h-1z" fill="#000"/>
<path d="M91 248h1v1h-1zM91 249h1v1h-1zM91 250h1v1h-1zM91 251h1v1h-1zM91 252h1v1h-1zM91 253h1v1h-1zM91 254h1v1h-1zM88 255h1v1h-1zM91 255h1v1h-1zM88 256h1v1h-1zM91 256h1v1h-1zM89 257h2v1h-2zM98 249h1v1h-1zM98 250h1v1h-1zM96 251h3v1h-3zM98 252h1v1h-1zM98 253h1v1h-1zM98 254h1v1h-1zM98 255h1v1h-1zM98 256h1v1h-1zM98 257h1v1h-1zM103 249h4v1h-4zM102 250h1v1h-1zM102 251h1v1h-1zM102 252h4v1h-4zM106 253h1v1h-1zM106 254h1v1h-1zM106 255h1v1h-1zM102 256h1v1h-1zM106 256h1v1h-1zM103 257h3v1h-3z" fill="#000"/>
<path d="M203 278h3v1h-3zM202 279h1v1h-1zM206 279h1v1h-1zM202 280h1v1h-1zM206 280h1v1h-1zM202 281h1v1h-1zM203 282h2v1h-2zM205 283h1v1h-1zM206 284h1v1h-1zM201 285h1v1h-1zM206 285h1v1h-1zM201 286h1v1h-1zM206 286h1v1h-1zM202 287h4v1h-4zM211 278h1v1h-1zM211 279h1v1h-1zM211 280h1v1h-1zM211 281h1v1h-1zM211 282h1v1h-1zM211 283h1v1h-1zM211 284h1v1h-1zM211 285h1v1h-1zM211 286h1v1h-1zM211 287h5v1h-5zM220 279h1v1h-1zM220 280h1v1h-1zM218 281h3v1h-3zM220 282h1v1h-1zM220 283h1v1h-1zM220 284h1v1h-1zM220 285h1v1h-1zM220 286h1v1h-1zM220 287h1v1h-1z" fill="#000"/>
<path d="M371 284h3v1h-3zM370 285h1v1h-1zM374 285h1v1h-1zM370 286h1v1h-1zM374 286h1v1h-1zM370 287h1v1h-1zM371 288h2v1h-2zM373 289h1v1h-1zM374 290h1v1h-1zM369 291h1v1h-1zM374 291h1v1h-1zM369 292h1v1h-1zM374 292h1v1h-1zM370 293h4v1h-4zM377 284h1v1h-1zM381 284h1v1h-1zM385 284h1v1h-1zM377 285h1v1h-1zM381 285h1v1h-1zM385 285h1v1h-1zM377 286h1v1h-1zM381 286h1v1h-1zM385 286h1v1h-1zM378 287h1v1h-1zM380 287h1v1h-1zM382 287h1v1h-1zM384 287h1v1h-1zM378 288h1v1h-1zM380 288h1v1h-1zM382 288h1v1h-1zM384 288h1v1h-1zM378 289h1v1h-1zM380 289h1v1h-1zM382 289h1v1h-1zM384 289h1v1h-1zM378 290h1v1h-1zM380 290h1v1h-1zM382 290h1v1h-1zM384 290h1v1h-1zM379 291h1v1h-1zM383 291h1v1h-1zM379 292h1v1h-1zM383 292h1v1h-1zM379 293h1v1h-1zM383 293h1v1h-1zM392 285h1v1h-1zM392 286h1v1h-1zM390 287h3v1h-3zM392 288h1v1h-1zM392 289h1v1h-1zM392 290h1v1h-1zM392 291h1v1h-1zM392 292h1v1h-1zM392 293h1v1h-1z" fill="#000"/>
<path d="M556 254h1v1h-1zM556 255h1v1h-1zM556 256h1v1h-1zM556 257h1v1h-1zM556 258h1v1h-1zM556 259h1v1h-1zM556 260h1v1h-1zM553 261h1v1h-1zM556 261h1v1h-1zM553 262h1v1h-1zM556 262h1v1h-1zM554 263h2v1h-2zM561 255h3v1h-3zM560 256h1v1h-1zM564 256h1v1h-1zM560 257h1v1h-1zM564 257h1v1h-1zM560 258h1v1h-1zM564 258h1v1h-1zM561 259h4v1h-4zM564 260h1v1h-1zM564 261h1v1h-1zM560 262h1v1h-1zM563 262h1v1h-1zM561 263h2v1h-2z" fill="#000"/>
<path d="M593 279h1v1h-1zM593 280h1v1h-1zM593 281h1v1h-1zM593 282h1v1h-1zM593 283h1v1h-1zM593 284h1v1h-1zM593 285h1v1h-1zM590 286h1v1h-1zM593 286h1v1h-1zM590 287h1v1h-1zM593 287h1v1h-1zM591 288h2v1h-2zM600 280h1v1h-1zM600 281h1v1h-1zM598 282h3v1h-3zM600 283h1v1h-1zM600 284h1v1h-1zM600 285h1v1h-1zM600 286h1v1h-1zM600 287h1v1h-1zM600 288h1v1h-1zM606 280h3v1h-3zM605 281h1v1h-1zM609 281h1v1h-1zM605 282h1v1h-1zM609 282h1v1h-1zM609 283h1v1h-1zM608 284h1v1h-1zM607 285h1v1h-1zM606 286h1v1h-1zM605 287h1v1h-1zM605 288h5v1h-5z" fill="#000"/>
<path d="M678 261h1v1h-1zM678 262h1v1h-1zM678 263h1v1h-1zM678 264h1v1h-1zM678 265h1v1h-1zM678 266h1v1h-1zM678 267h1v1h-1zM675 268h1v1h-1zM678 268h1v1h-1zM675 269h1v1h-1zM678 269h1v1h-1zM676 270h2v1h-2zM685 262h1v1h-1zM685 263h1v1h-1zM683 264h3v1h-3zM685 265h1v1h-1zM685 266h1v1h-1zM685 267h1v1h-1zM685 268h1v1h-1zM685 269h1v1h-1zM685 270h1v1h-1zM692 262h1v1h-1zM691 263h1v1h-1zM693 263h1v1h-1zM690 264h1v1h-1zM694 264h1v1h-1zM690 265h1v1h-1zM694 265h1v1h-1zM690 266h1v1h-1zM694 266h1v1h-1zM690 267h1v1h-1zM694 267h1v1h-1zM690 268h1v1h-1zM694 268h1v1h-1zM691 269h1v1h-1zM693 269h1v1h-1zM692 270h1v1h-1z" fill="#000"/>
<path d="M686 280h1v1h-1zM686 281h1v1h-1zM686 282h1v1h-1zM686 283h1v1h-1zM686 284h1v1h-1zM686 285h1v1h-1zM686 286h1v1h-1zM683 287h1v1h-1zM686 287h1v1h-1zM683 288h1v1h-1zM686 288h1v1h-1zM684 289h2v1h-2zM691 281h3v1h-3zM690 282h1v1h-1zM694 282h1v1h-1zM690 283h1v1h-1zM694 283h1v1h-1zM694 284h1v1h-1zM692 285h2v1h-2zM694 286h1v1h-1zM690 287h1v1h-1zM694 287h1v1h-1zM690 288h1v1h-1zM694 288h1v1h-1zM691 289h3v1h-3z" fill="#000"/>
<path d="M654 347h1v1h-1zM654 348h1v1h-1zM654 349h1v1h-1zM654 350h1v1h-1zM654 351h1v1h-1zM654 352h1v1h-1zM654 353h1v1h-1zM651 354h1v1h-1zM654 354h1v1h-1zM651 355h1v1h-1zM654 355h1v1h-1zM652 356h2v1h-2zM660 348h2v1h-2zM659 349h1v1h-1zM662 349h1v1h-1zM659 350h1v1h-1zM662 350h1v1h-1zM659 351h1v1h-1zM662 351h1v1h-1zM660 352h2v1h-2zM658 353h1v1h-1zM662 353h1v1h-1zM658 354h1v1h-1zM662 354h1v1h-1zM658 355h1v1h-1zM662 355h1v1h-1zM659 356h3v1h-3z" fill="#000"/>
<path d="M491 406h1v1h-1zM496 406h1v1h-1zM491 407h2v1h-2zM496 407h1v1h-1zM491 408h1v1h-1zM493 408h1v1h-1zM496 408h1v1h-1zM491 409h1v1h-1zM493 409h1v1h-1zM496 409h1v1h-1zM491 410h1v1h-1zM494 410h1v1h-1zM496 410h1v1h-1zM491 411h1v1h-1zM494 411h1v1h-1zM496 411h1v1h-1zM491 412h1v1h-1zM495 412h2v1h-2zM491 413h1v1h-1zM495 413h2v1h-2zM491 414h1v1h-1zM496 414h1v1h-1zM491 415h1v1h-1zM496 415h1v1h-1zM501 406h4v1h-4zM501 407h1v1h-1zM505 407h1v1h-1zM501 408h1v1h-1zM505 408h1v1h-1zM501 409h1v1h-1zM505 409h1v1h-1zM501 410h1v1h-1zM505 410h1v1h-1zM501 411h4v1h-4zM501 412h1v1h-1zM501 413h1v1h-1zM501 414h1v1h-1zM501 415h1v1h-1zM509 406h1v1h-1zM514 406h1v1h-1zM509 407h1v1h-1zM514 407h1v1h-1zM509 408h1v1h-1zM514 408h1v1h-1zM509 409h1v1h-1zM514 409h1v1h-1zM509 410h1v1h-1zM514 410h1v1h-1zM509 411h1v1h-1zM514 411h1v1h-1zM509 412h1v1h-1zM514 412h1v1h-1zM509 413h1v1h-1zM514 413h1v1h-1zM510 414h1v1h-1zM513 414h1v1h-1zM511 415h2v1h-2z" fill="#000"/>
<path d="M587 411h3v1h-3zM586 412h1v1h-1zM590 412h1v1h-1zM585 413h1v1h-1zM590 413h1v1h-1zM585 414h1v1h-1zM585 415h1v1h-1zM585 416h1v1h-1zM585 417h1v1h-1zM590 417h1v1h-1zM585 418h1v1h-1zM590 418h1v1h-1zM586 419h1v1h-1zM590 419h1v1h-1zM587 420h3v1h-3zM595 411h4v1h-4zM595 412h1v1h-1zM599 412h1v1h-1zM595 413h1v1h-1zM599 413h1v1h-1zM595 414h1v1h-1zM599 414h1v1h-1zM595 415h1v1h-1zM599 415h1v1h-1zM595 416h4v1h-4zM595 417h1v1h-1zM595 418h1v1h-1zM595 419h1v1h-1zM595 420h1v1h-1zM604 411h1v1h-1zM609 411h1v1h-1zM604 412h1v1h-1zM609 412h1v1h-1zM604 413h1v1h-1zM609 413h1v1h-1zM604 414h1v1h-1zM609 414h1v1h-1zM604 415h1v1h-1zM609 415h1v1h-1zM604 416h1v1h-1zM609 416h1v1h-1zM604 417h1v1h-1zM609 417h1v1h-1zM604 418h1v1h-1zM609 418h1v1h-1zM605 419h1v1h-1zM608 419h1v1h-1zM606 420h2v1h-2z" fill="#000"/>
<path d="M182 470h1v1h-1zM182 471h1v1h-1zM182 472h1v1h-1zM182 473h1v1h-1zM182 474h1v1h-1zM182 475h1v1h-1zM182 476h1v1h-1zM179 477h1v1h-1zM182 477h1v1h-1zM179 478h1v1h-1zM182 478h1v1h-1zM180 479h2v1h-2zM188 471h2v1h-2zM187 472h1v1h-1zM190 472h1v1h-1zM186 473h1v1h-1zM186 474h4v1h-4zM186 475h1v1h-1zM190 475h1v1h-1zM186 476h1v1h-1zM190 476h1v1h-1zM186 477h1v1h-1zM190 477h1v1h-1zM187 478h1v1h-1zM190 478h1v1h-1zM188 479h2v1h-2z" fill="#000"/>
<path d="M384 466h1v1h-1zM384 467h1v1h-1zM384 468h1v1h-1zM384 469h1v1h-1zM384 470h1v1h-1zM384 471h1v1h-1zM384 472h1v1h-1zM381 473h1v1h-1zM384 473h1v1h-1zM381 474h1v1h-1zM384 474h1v1h-1zM382 475h2v1h-2zM391 467h1v1h-1zM391 468h1v1h-1zM389 469h3v1h-3zM391 470h1v1h-1zM391 471h1v1h-1zM391 472h1v1h-1zM391 473h1v1h-1zM391 474h1v1h-1zM391 475h1v1h-1zM398 467h1v1h-1zM398 468h1v1h-1zM397 469h2v1h-2zM396 470h1v1h-1zM398 470h1v1h-1zM396 471h1v1h-1zM398 471h1v1h-1zM395 472h1v1h-1zM398 472h1v1h-1zM395 473h5v1h-5zM398 474h1v1h-1zM398 475h1v1h-1z" fill="#000"/>
<path d="M429 487h1v1h-1zM429 488h1v1h-1zM429 489h1v1h-1zM429 490h1v1h-1zM429 491h1v1h-1zM429 492h1v1h-1zM429 493h1v1h-1zM426 494h1v1h-1zM429 494h1v1h-1zM426 495h1v1h-1zM429 495h1v1h-1zM427 496h2v1h-2zM433 488h5v1h-5zM437 489h1v1h-1zM436 490h1v1h-1zM435 491h1v1h-1zM435 492h1v1h-1zM435 493h1v1h-1zM434 494h1v1h-1zM434 495h1v1h-1zM434 496h1v1h-1z" fill="#000"/>
<path d="M550 483h1v1h-1zM550 484h1v1h-1zM550 485h1v1h-1zM550 486h1v1h-1zM550 487h1v1h-1zM550 488h1v1h-1zM550 489h1v1h-1zM547 490h1v1h-1zM550 490h1v1h-1zM547 491h1v1h-1zM550 491h1v1h-1zM548 492h2v1h-2zM556 484h1v1h-1zM556 485h1v1h-1zM554 486h3v1h-3zM556 487h1v1h-1zM556 488h1v1h-1zM556 489h1v1h-1zM556 490h1v1h-1zM556 491h1v1h-1zM556 492h1v1h-1zM562 484h3v1h-3zM561 485h1v1h-1zM565 485h1v1h-1zM561 486h1v1h-1zM565 486h1v1h-1zM565 487h1v1h-1zM563 488h2v1h-2zM565 489h1v1h-1zM561 490h1v1h-1zM565 490h1v1h-1zM561 491h1v1h-1zM565 491h1v1h-1zM562 492h3v1h-3z" fill="#000"/>
</svg>
</body></html>
